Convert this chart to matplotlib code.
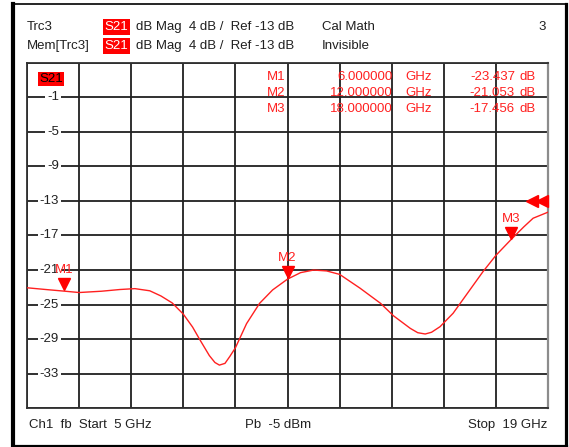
import numpy as np
import matplotlib.pyplot as plt
from matplotlib.lines import Line2D
from matplotlib.transforms import blended_transform_factory, offset_copy

plt.rcParams['font.family'] = ['Liberation Sans', 'DejaVu Sans']

# trace (GHz, dB)
freq_ghz = [5.0, 5.5, 6.0, 6.4, 7.0, 7.5, 7.9, 8.3, 8.6, 8.9, 9.2, 9.45, 9.65,
            9.9, 10.05, 10.17, 10.32, 10.45, 10.6, 10.9, 11.25, 11.6, 12.0,
            12.35, 12.7, 13.05, 13.4, 13.95, 14.5, 14.85, 15.3, 15.5, 15.7,
            15.87, 16.1, 16.45, 16.9, 17.25, 17.6, 18.0, 18.35, 18.6, 19.0]
s21_db = [-23.05, -23.25, -23.44, -23.6, -23.45, -23.25, -23.15, -23.4, -24.0,
          -24.8, -26.1, -27.6, -29.1, -30.9, -31.7, -32.0, -31.8, -31.0, -30.0,
          -27.2, -24.85, -23.3, -22.05, -21.3, -21.0, -21.1, -21.5, -23.1,
          -24.85, -26.3, -27.75, -28.25, -28.4, -28.2, -27.55, -26.0, -23.3,
          -21.2, -19.3, -17.5, -16.0, -15.0, -14.3]

# markers
marker_names = ['M1', 'M2', 'M3']
marker_freq = [6.0, 12.0, 18.0]
marker_freq_text = ['6.000000', '12.000000', '18.000000']
marker_val_text = ['-23.437', '-21.053', '-17.456']

# scale
f_start, f_stop = 5, 19
ref_level = -13
db_per_div = 4
y_tick_labels = [-1, -5, -9, -13, -17, -21, -25, -29, -33]

W, H = 569, 447
fig = plt.figure(figsize=(W / 100, H / 100), dpi=100)
fig.patch.set_facecolor('white')


def px(x, y):
    # pixel position -> figure fraction
    return x / W, 1 - y / H


ax = fig.add_axes([27 / W, 1 - 408.3 / H, 521 / W, 345.6 / H])
ax.set_xlim(f_start, f_stop)
ax.set_ylim(ref_level - 6 * db_per_div, ref_level + 4 * db_per_div)
ax.set_xticks(np.linspace(f_start, f_stop, 11))
ax.set_yticks(np.arange(ref_level - 6 * db_per_div, ref_level + 4 * db_per_div + 0.1, db_per_div))
ax.tick_params(length=0, labelbottom=False, labelleft=False)
ax.grid(True, color='#202020', lw=1.3)
for s in ['left', 'top', 'bottom']:
    ax.spines[s].set_color('#303030')
    ax.spines[s].set_linewidth(1.3)
ax.spines['right'].set_color('#8c8c8c')
ax.spines['right'].set_linewidth(1.6)

ax.plot(freq_ghz, s21_db, color='#ff2020', lw=1.0, zorder=3)

# y labels sit inside the grid
ylab_tr = blended_transform_factory(ax.transAxes, ax.transData)
for v in y_tick_labels:
    ax.text(0.0614, v, f'{v}', transform=ylab_tr, ha='right', va='center',
            fontsize=9.5, color='#202020', zorder=4,
            bbox=dict(boxstyle='square,pad=0.15', fc='white', ec='none'))

ax.text(0.0233, 0.97, 'S21', transform=ax.transAxes, ha='left', va='top',
        fontsize=9.5, color='black', zorder=5,
        bbox=dict(boxstyle='square,pad=0.1', fc='#ff0000', ec='none'))

# marker triangles and labels
marker_val = np.interp(marker_freq, freq_ghz, s21_db)
tri_tr = offset_copy(ax.transData, fig=fig, y=5, units='points')
lab_tr = offset_copy(ax.transData, fig=fig, y=15, units='points')
ax.plot(marker_freq, marker_val, ls='none', marker='v', ms=9, color='#ff0000',
        transform=tri_tr, zorder=5)
for name, f, v in zip(marker_names, marker_freq, marker_val):
    ax.text(f, v, name, transform=lab_tr, ha='center', va='center',
            fontsize=9.5, color='#ff2020', zorder=5)

# ref level arrows on the right edge
ax.plot([0.969, 0.989], [ref_level, ref_level], ls='none', marker='<', ms=9,
        color='#ff0000', transform=ylab_tr, clip_on=False, zorder=5)

# marker readout table
row_y = [77, 93, 109.5]
for name, ft, vt, y in zip(marker_names, marker_freq_text, marker_val_text, row_y):
    fig.text(*px(285, y), name, ha='right', va='center', fontsize=9.5, color='#ff2020')
    fig.text(*px(393, y), ft, ha='right', va='center', fontsize=9.5, color='#ff2020')
    fig.text(*px(405, y), 'GHz', ha='left', va='center', fontsize=9.5, color='#ff2020')
    fig.text(*px(515, y), vt, ha='right', va='center', fontsize=9.5, color='#ff2020')
    fig.text(*px(519, y), 'dB', ha='left', va='center', fontsize=9.5, color='#ff2020')

# header lines
hdr_font = dict(fontsize=9.5, color='#202020', va='center')
for y, name, extra in [(27, 'Trc3', 'Cal Math'), (46, 'Mem[Trc3]', 'Invisible')]:
    fig.text(*px(27, y), name, ha='left', **hdr_font)
    fig.text(*px(104.5, y), 'S21', ha='left', va='center', fontsize=9.5, color='white',
             bbox=dict(boxstyle='square,pad=0.12', fc='#ff0000', ec='none'))
    fig.text(*px(136, y), 'dB Mag  4 dB /  Ref -13 dB', ha='left', **hdr_font)
    fig.text(*px(322, y), extra, ha='left', **hdr_font)
fig.text(*px(546, 27), '3', ha='right', **hdr_font)

# footer
fig.text(*px(29, 425), 'Ch1  fb  Start  5 GHz', ha='left', **hdr_font)
fig.text(*px(245, 425), 'Pb  -5 dBm', ha='left', **hdr_font)
fig.text(*px(547, 425), 'Stop  19 GHz', ha='right', **hdr_font)

# outer frame
frame = [((13, 13), (4, 445.5), 3.0),
         ((565.5, 565.5), (4, 445.5), 2.3),
         ((13, 565.5), (445.5, 445.5), 2.3),
         ((13, 565.5), (4, 4), 1.2)]
for xs, ys, lw in frame:
    p0 = px(xs[0], ys[0])
    p1 = px(xs[1], ys[1])
    fig.add_artist(Line2D([p0[0], p1[0]], [p0[1], p1[1]], transform=fig.transFigure,
                          color='black', lw=lw, solid_capstyle='projecting'))

plt.savefig('out.png', dpi=100)
